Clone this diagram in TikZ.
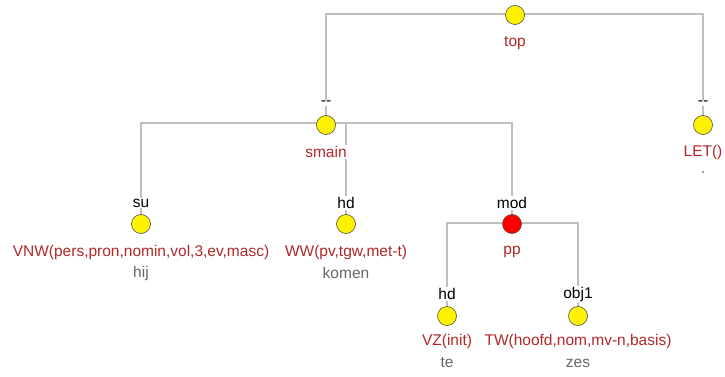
\documentclass[tikz,border=0pt]{standalone}
\usepackage{fontspec}
\setmainfont{Liberation Sans}
\begin{document}
\begin{tikzpicture}[x=1pt,y=-1pt,
  edge/.style={draw=black!25,line width=2.2pt},
  dot/.style={circle,draw=black!70,line width=0.6pt,fill=yellow,minimum size=19pt,inner sep=0pt},
  reddot/.style={dot,fill=red},
  rel/.style={fill=white,inner sep=1pt,font=\fontsize{15.5}{17}\selectfont,text=black},
  cat/.style={fill=white,inner sep=1pt,font=\fontsize{15.5}{17}\selectfont,text={rgb,255:red,178;green,40;blue,40}},
  word/.style={fill=white,inner sep=1pt,font=\fontsize{15.5}{17}\selectfont,text=black!60}]
\useasboundingbox (0,0) rectangle (725,377);
% coordinates
\coordinate (tL) at (326,14);
\coordinate (tR) at (703,14);
\coordinate (sL) at (141,123);
\coordinate (sH) at (346,123);
\coordinate (sR) at (512,123);
\coordinate (pL) at (447,223);
\coordinate (pR) at (578,223);
% edges
\draw[edge] (326,125) -- (tL) -- (tR) -- (703,125);
\draw[edge] (141,224) -- (sL) -- (sR) -- (512,224);
\draw[edge] (sH) -- (346,224);
\draw[edge] (447,316) -- (pL) -- (pR) -- (578,316);
% top
\node[dot] (top) at (515,15) {};
\node[cat] (toplab) at (515,43) {top};
% smain
\node[rel] (r1) at (326,103) {{-}{-}};
\node[dot] (smain) at (326,125) {};
\node[cat] (smainlab) at (326,152) {smain};
% LET
\node[rel] (r2) at (703,103) {{-}{-}};
\node[dot] (let) at (703,125) {};
\node[cat] (letlab) at (703,152) {LET()};
\node[word] (letw) at (703,173) {.};
% su
\node[rel] (r3) at (141,203) {su};
\node[dot] (su) at (141,224) {};
\node[cat] (sulab) at (141,252) {VNW(pers,pron,nomin,vol,3,ev,masc)};
\node[word] (suw) at (141,273) {hij};
% hd
\node[rel] (r4) at (346,203) {hd};
\node[dot] (hd) at (346,224) {};
\node[cat] (hdlab) at (346,252) {WW(pv,tgw,met-t)};
\node[word] (hdw) at (346,273) {komen};
% mod
\node[rel] (r5) at (512,203) {mod};
\node[reddot] (pp) at (512,224) {};
\node[cat] (pplab) at (512,252) {pp};
% hd2
\node[rel] (r6) at (447,294) {hd};
\node[dot] (vz) at (447,316) {};
\node[cat] (vzlab) at (447,341) {VZ(init)};
\node[word] (vzw) at (447,363) {te};
% obj1
\node[rel] (r7) at (578,294) {obj1};
\node[dot] (tw) at (578,316) {};
\node[cat] (twlab) at (578,341) {TW(hoofd,nom,mv-n,basis)};
\node[word] (tww) at (578,363) {zes};
\end{tikzpicture}
\end{document}
